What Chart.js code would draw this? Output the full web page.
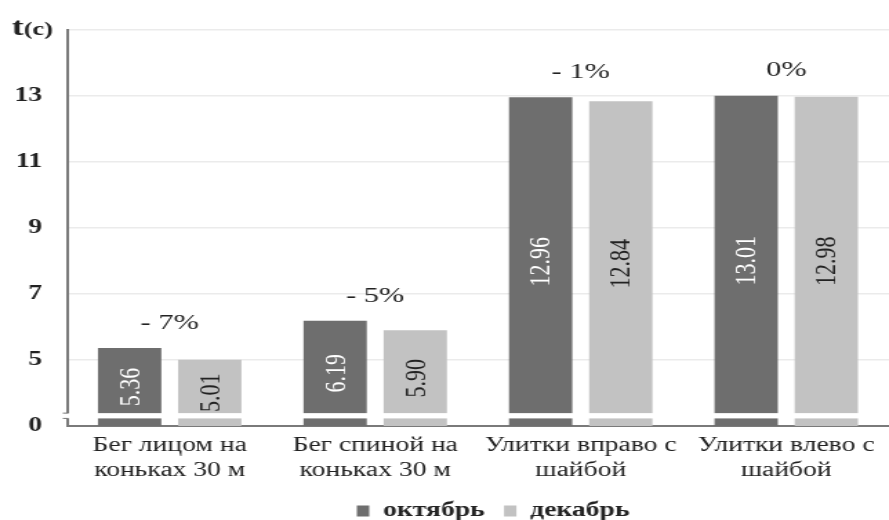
<!DOCTYPE html>
<html>
<head>
<meta charset="utf-8">
<script src="https://cdn.jsdelivr.net/npm/chart.js@4.4.0/dist/chart.umd.min.js"></script>
<style>
  html, body { margin: 0; padding: 0; background: #fff; overflow: hidden; }
  /* the source picture is stretched sideways, so the chart is too */
  #wrap { width: 644px; height: 520px; transform-origin: 0 0; transform: scaleX(1.3804); }
</style>
</head>
<body>
<div id="wrap"><canvas id="chart" width="644" height="520"></canvas></div>
<script>
const categories = [
  ['Бег лицом на', 'коньках 30 м'],
  ['Бег спиной на', 'коньках 30 м'],
  ['Улитки вправо с', 'шайбой'],
  ['Улитки влево с', 'шайбой']
];
const october = [5.36, 6.19, 12.96, 13.01];
const december = [5.01, 5.90, 12.84, 12.98];
const changes = ['- 7%', '- 5%', '- 1%', '0%'];
// axis is broken: the bottom tick (3) is labelled 0, the top one is the unit
const yTicks = [3, 5, 7, 9, 11, 13, 15];

const serif = '"Liberation Serif", "DejaVu Serif", serif';

const extras = {
  id: 'extras',
  afterUpdate(chart) {
    // legend sits a bit right of the plot centre
    chart.legend.left += 11;
    chart.legend.right += 11;
  },
  afterDatasetsDraw(chart) {
    const ctx = chart.ctx;
    const area = chart.chartArea;
    const y = chart.scales.y;

    // white band for the axis break
    const bTop = y.getPixelForValue(3.39), bBot = y.getPixelForValue(3.23);
    ctx.save();
    ctx.fillStyle = '#fff';
    ctx.fillRect(area.left - 4, bTop, area.right - area.left + 4, bBot - bTop);
    ctx.strokeStyle = '#777';
    ctx.lineWidth = 1;
    ctx.beginPath();
    ctx.moveTo(area.left - 3, bTop); ctx.lineTo(area.left + 1, bTop);
    ctx.moveTo(area.left - 3, bBot); ctx.lineTo(area.left + 1, bBot);
    ctx.stroke();
    ctx.restore();

    // values inside the bars
    chart.data.datasets.forEach((ds, i) => {
      chart.getDatasetMeta(i).data.forEach((bar, j) => {
        const base = Math.min(bar.base, area.bottom);
        ctx.save();
        ctx.translate(bar.x, (bar.y + base) / 2);
        ctx.rotate(-Math.PI / 2);
        ctx.font = '22px ' + serif;
        ctx.fillStyle = i === 0 ? '#fff' : '#222';
        ctx.textAlign = 'center';
        ctx.textBaseline = 'middle';
        ctx.fillText(ds.data[j].toFixed(2), 0, 1);
        ctx.restore();
      });
    });

    // change labels over each group
    const m0 = chart.getDatasetMeta(0).data, m1 = chart.getDatasetMeta(1).data;
    ctx.save();
    ctx.font = '22px ' + serif;
    ctx.fillStyle = '#222';
    ctx.textAlign = 'center';
    ctx.textBaseline = 'middle';
    changes.forEach((c, j) => {
      const cx = (m0[j].x + m1[j].x) / 2;
      const top = Math.min(m0[j].y, m1[j].y);
      ctx.fillText(c, cx, top - 25);
    });

    // unit label at top of y axis
    const ty = y.getPixelForValue(15);
    ctx.textAlign = 'left';
    ctx.textBaseline = 'alphabetic';
    ctx.font = 'bold 26px ' + serif;
    ctx.fillText('t', 8.5, ty + 5);
    const tw = ctx.measureText('t').width;
    ctx.font = 'bold 19px ' + serif;
    ctx.fillText('(с)', 8.5 + tw, ty + 5);
    ctx.restore();
  }
};

const chart = new Chart(document.getElementById('chart'), {
  type: 'bar',
  data: {
    labels: categories,
    datasets: [
      { label: 'октябрь', data: october, backgroundColor: '#6e6e6e', borderWidth: 0 },
      { label: 'декабрь', data: december, backgroundColor: '#c2c2c2', borderWidth: 0 }
    ]
  },
  options: {
    responsive: false,
    animation: false,
    categoryPercentage: 0.78,
    barPercentage: 0.79,
    layout: { padding: { top: 13, right: 0, bottom: -11, left: 0 } },
    plugins: {
      tooltip: { enabled: false },
      legend: {
        position: 'bottom',
        fullSize: false,
        labels: {
          color: '#222',
          font: { family: serif, size: 20, weight: 'bold' },
          boxWidth: 9,
          boxHeight: 11,
          padding: 14
        }
      }
    },
    scales: {
      x: {
        grid: { display: false, drawTicks: false },
        border: { color: '#7a7a7a', width: 2 },
        ticks: {
          color: '#222',
          font: { family: serif, size: 20, lineHeight: 1.25 },
          padding: 7,
          maxRotation: 0,
          minRotation: 0,
          autoSkip: false
        },
        afterFit(scale) { scale.height = 61; }
      },
      y: {
        min: 3,
        max: 15,
        afterBuildTicks(scale) { scale.ticks = yTicks.map(v => ({ value: v })); },
        afterFit(scale) { scale.width = 48.5; },
        grid: {
          drawTicks: false,
          color: c => (c.tick && c.tick.value === 3) ? 'rgba(0,0,0,0)' : '#ebebeb',
          lineWidth: 1.5
        },
        border: { color: '#7a7a7a', width: 2 },
        ticks: {
          color: '#222',
          padding: 18,
          font: { family: serif, size: 20, weight: 'bold' },
          callback: v => v === 3 ? '0' : (v === 15 ? '' : v)
        }
      }
    }
  },
  plugins: [extras]
});
</script>
</body>
</html>
